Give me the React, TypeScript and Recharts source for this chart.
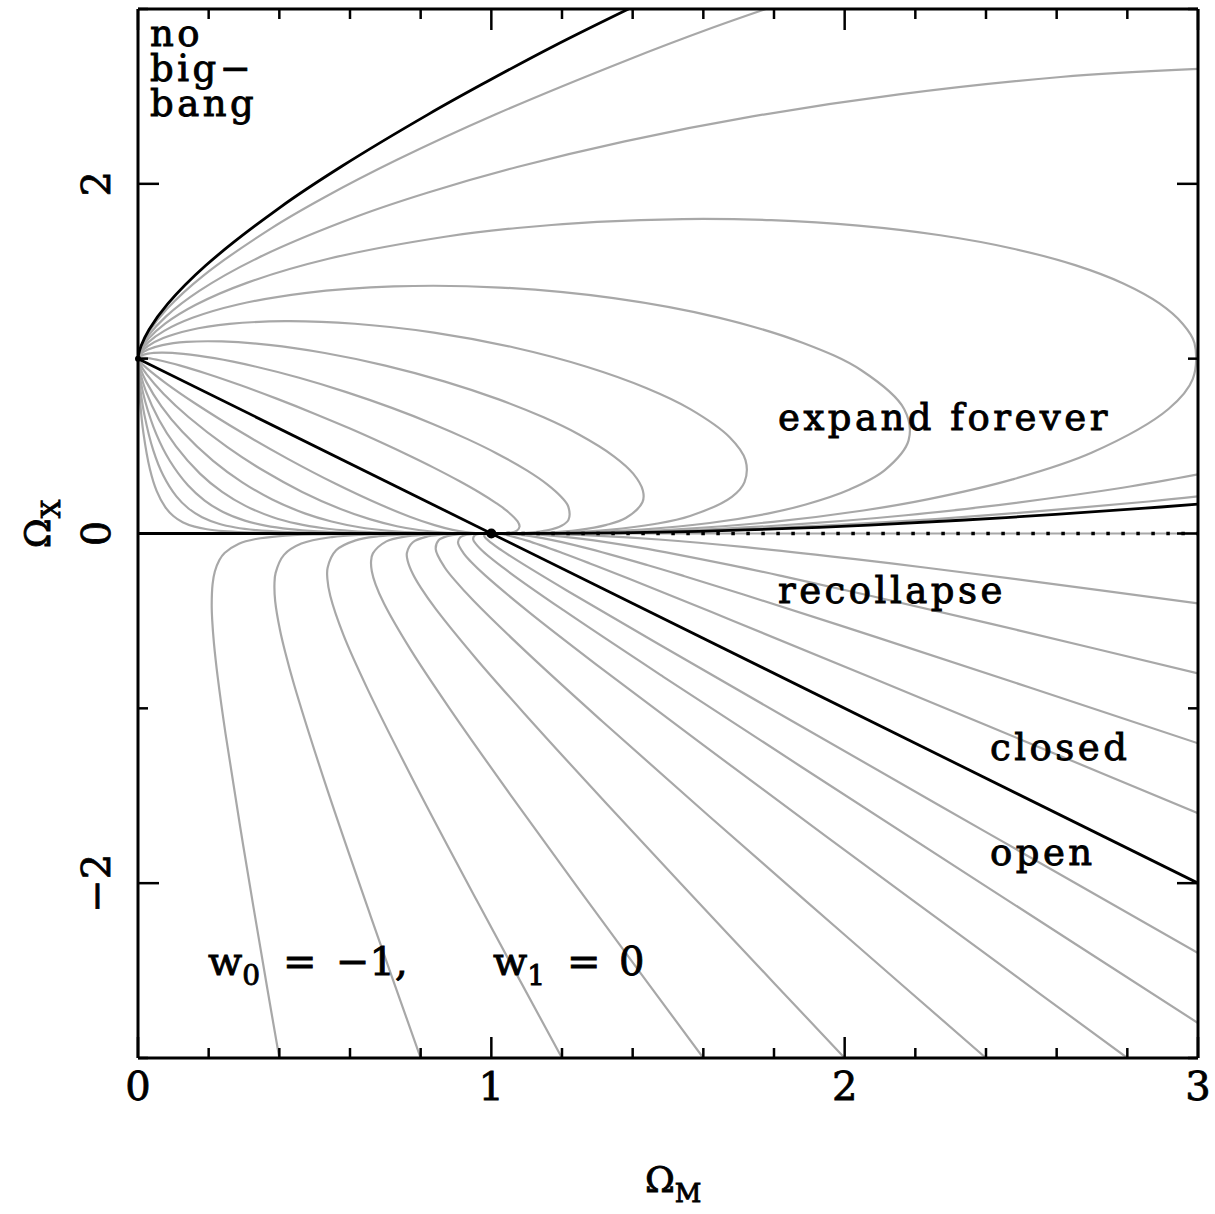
import React from 'react';
import { LineChart, Line, XAxis, YAxis, ReferenceDot } from 'recharts';

const W = 1215;
const H = 1214;
const FONT = '"DejaVu Serif", serif';
const GRAY = '#a8a8a8';

// axis ticks and labels
const xTicks = [0, 0.2, 0.4, 0.6, 0.8, 1, 1.2, 1.4, 1.6, 1.8, 2, 2.2, 2.4, 2.6, 2.8, 3];
const xLabels: [number, string][] = [[0, '0'], [1, '1'], [2, '2'], [3, '3']];
const yTicks = [-3, -2, -1, 0, 1, 2, 3];
const yLabels: [number, string][] = [[-2, '−2'], [0, '0'], [2, '2']];

// black boundary curves (Omega_M, Omega_X)
const flatUniverse = [[0, 1], [3, -2]];
const zeroLeft = [[0, 0], [1, 0]];
const zeroRight = [[1, 0], [3, 0]];
const noBigBang = [[0, 1], [0.001, 1.0182], [0.0086, 1.0725], [0.0315, 1.167], [0.084, 1.313], [0.1916, 1.5326], [0.4033, 1.8671], [0.5768, 2.1004], [0.8227, 2.3987], [0.983, 2.5793], [1.1759, 2.7871], [1.388, 3]];
const recollapse = [[3, 0.168], [2.8505, 0.1448], [2.4568, 0.091], [2.069, 0.0483], [1.8412, 0.0288], [1.5873, 0.0127], [1.3644, 0.004], [1.1861, 0.0007], [1.0672, 0], [1, 0]];

// closed, expand forever: loops from (1,0) round to (0,1)
const loopA = [[0, 1], [0.001, 1.0023], [0.008, 1.0053], [0.0271, 1.003], [0.0633, 0.9894], [0.12, 0.96], [0.1971, 0.9123], [0.2907, 0.8476], [0.3942, 0.7699], [0.4996, 0.6853], [0.6, 0.6], [0.6903, 0.5186], [0.7685, 0.4447], [0.834, 0.3796], [0.9104, 0.2986], [0.9652, 0.2357], [1.0137, 0.1738], [1.0433, 0.1304], [1.0743, 0.0688], [1.0799, 0.04], [1.0725, 0.0168], [1.0536, 0.0049], [1.028, 0.0006], [1, 0]];
const loopB = [[0, 1], [0.001, 1.0051], [0.0081, 1.0166], [0.0278, 1.0285], [0.0662, 1.0344], [0.1285, 1.0277], [0.2166, 1.0029], [0.3282, 0.9568], [0.456, 0.8906], [0.5896, 0.8087], [0.7184, 0.7184], [0.8343, 0.6268], [0.9328, 0.5398], [1.0127, 0.4609], [1.1004, 0.361], [1.1572, 0.2825], [1.1995, 0.2057], [1.218, 0.1523], [1.2183, 0.078], [1.1985, 0.0444], [1.1579, 0.0181], [1.1071, 0.0051], [1.0527, 0.0006], [1, 0]];
const loopC = [[0, 1], [0.001, 1.0076], [0.0082, 1.0267], [0.0284, 1.052], [0.069, 1.0774], [0.137, 1.0957], [0.2373, 1.0984], [0.37, 1.0787], [0.5286, 1.0324], [0.7001, 0.9603], [0.8688, 0.8688], [1.0209, 0.767], [1.1479, 0.6643], [1.2467, 0.5675], [1.3468, 0.4418], [1.4015, 0.3422], [1.429, 0.245], [1.4276, 0.1784], [1.3804, 0.0883], [1.3262, 0.0491], [1.2448, 0.0195], [1.1586, 0.0054], [1.0755, 0.0006], [1, 0]];
const loopD = [[0, 1], [0.001, 1.0097], [0.0083, 1.0356], [0.029, 1.0734], [0.0716, 1.1181], [0.1453, 1.1628], [0.2589, 1.1985], [0.4165, 1.2142], [0.6142, 1.1996], [0.8376, 1.1489], [1.0638, 1.0638], [1.2696, 0.9538], [1.4381, 0.8322], [1.563, 0.7114], [1.6751, 0.5495], [1.7193, 0.4197], [1.7165, 0.2943], [1.6807, 0.2101], [1.5625, 0.1], [1.4626, 0.0542], [1.3322, 0.0208], [1.2078, 0.0056], [1.0962, 0.0006], [1, 0]];
const loopE = [[0, 1], [0.001, 1.0117], [0.0084, 1.0442], [0.0295, 1.0942], [0.0742, 1.1589], [0.1542, 1.2335], [0.2829, 1.3098], [0.4717, 1.3753], [0.7237, 1.4134], [1.0256, 1.4069], [1.3459, 1.3459], [1.6432, 1.2346], [1.8826, 1.0894], [2.0481, 0.9322], [2.1686, 0.7113], [2.1809, 0.5325], [2.1136, 0.3624], [2.0141, 0.2518], [1.8899, 0.1659], [1.7819, 0.114], [1.618, 0.0599], [1.4258, 0.0223], [1.2577, 0.0058], [1.1163, 0.0006], [1, 0]];
const loopF = [[0, 1], [0.001, 1.0136], [0.0084, 1.0523], [0.0301, 1.1146], [0.0768, 1.2], [0.1635, 1.308], [0.3099, 1.4349], [0.539, 1.5713], [0.8691, 1.6975], [1.073, 1.7473], [1.2995, 1.7825], [1.5421, 1.7986], [1.7921, 1.7921], [2.0388, 1.7612], [2.2706, 1.7059], [2.4774, 1.6289], [2.6523, 1.5349], [2.7901, 1.4286], [2.8908, 1.3158], [2.9558, 1.2013], [2.99, 1.0897], [2.9854, 0.8846], [2.9164, 0.712], [2.7001, 0.463], [2.4752, 0.3094], [2.2376, 0.1964], [2.0525, 0.1314], [1.7974, 0.0666], [1.5264, 0.0239], [1.3084, 0.0061], [1.1358, 0.0007], [1, 0]];
const loopGUpper = [[0, 1], [0.001, 1.0154], [0.0085, 1.0601], [0.0306, 1.1344], [0.0795, 1.2418], [0.1734, 1.3875], [0.3407, 1.5775], [0.6228, 1.8159], [0.8235, 1.952], [1.0731, 2.096], [1.3775, 2.2432], [1.739, 2.3855], [2.1537, 2.5119], [2.611, 2.611], [3, 2.657]];
const loopGLower = [[3, 0.338], [2.7862, 0.2617], [2.397, 0.1534], [2.1735, 0.1045], [2.0079, 0.0744], [1.7815, 0.0416], [1.6357, 0.0256], [1.4607, 0.0117], [1.3603, 0.0063], [1.2503, 0.0024], [1.155, 0.0007], [1, 0]];
const loopHUpper = [[0, 1], [0.001, 1.0172], [0.0085, 1.0677], [0.0312, 1.1543], [0.0822, 1.285], [0.1842, 1.4738], [0.377, 1.7452], [0.5281, 1.9231], [0.7331, 2.1372], [1.011, 2.3964], [1.3875, 2.71], [1.6233, 2.891], [1.777, 3]];
const loopHLower = [[3, 0.212], [2.8604, 0.1831], [2.4528, 0.1117], [2.1169, 0.0646], [1.7571, 0.0275], [1.5366, 0.0123], [1.4145, 0.0066], [1.2842, 0.0025], [1.1741, 0.0007], [1, 0]];

// open, expand forever: from (1,0) to (0,1) under the flat line
const openA = [[0, 1], [0.001, 0.9955], [0.0078, 0.9785], [0.0255, 0.9447], [0.0784, 0.8606], [0.161, 0.7452], [0.2949, 0.576], [0.4255, 0.4255], [0.558, 0.2857], [0.6836, 0.1669], [0.7692, 0.0962], [0.8393, 0.0478], [0.8902, 0.0208], [0.9276, 0.0074], [0.9563, 0.0019], [0.9769, 0.0003], [1, 0]];
const openB = [[0, 1], [0.001, 0.9911], [0.0077, 0.9615], [0.0246, 0.9099], [0.0727, 0.798], [0.1436, 0.6649], [0.253, 0.4941], [0.3571, 0.3571], [0.4647, 0.2379], [0.5733, 0.14], [0.6557, 0.082], [0.7328, 0.0417], [0.7988, 0.0186], [0.8562, 0.0069], [0.9075, 0.0018], [0.9491, 0.0003], [1, 0]];
const openC = [[0, 1], [0.001, 0.9852], [0.0075, 0.9398], [0.0234, 0.8673], [0.0663, 0.7275], [0.1256, 0.5814], [0.2126, 0.4153], [0.2941, 0.2941], [0.3799, 0.1945], [0.4719, 0.1152], [0.5479, 0.0685], [0.6268, 0.0357], [0.7026, 0.0164], [0.7764, 0.0062], [0.8496, 0.0017], [0.9144, 0.0003], [1, 0]];
const openD = [[0, 1], [0.001, 0.9775], [0.0073, 0.9124], [0.022, 0.8163], [0.0593, 0.6508], [0.1076, 0.498], [0.1753, 0.3425], [0.2381, 0.2381], [0.3056, 0.1565], [0.3818, 0.0932], [0.4494, 0.0562], [0.5255, 0.0299], [0.6054, 0.0141], [0.6906, 0.0055], [0.7831, 0.0015], [0.8719, 0.0003], [0.9317, 0], [1, 0]];
const openE = [[0, 1], [0.001, 0.9671], [0.007, 0.8772], [0.0204, 0.7553], [0.0518, 0.5684], [0.0899, 0.416], [0.1413, 0.2759], [0.1887, 0.1887], [0.2408, 0.1233], [0.3024, 0.0738], [0.3604, 0.045], [0.4299, 0.0245], [0.5086, 0.0119], [0.5995, 0.0048], [0.707, 0.0014], [0.8195, 0.0002], [0.9009, 0], [1, 0]];
const openF = [[0, 1], [0.001, 0.9515], [0.0066, 0.8278], [0.0183, 0.677], [0.0433, 0.4754], [0.0716, 0.3316], [0.1087, 0.2122], [0.1429, 0.1429], [0.1814, 0.0929], [0.2289, 0.0559], [0.2759, 0.0345], [0.3356, 0.0191], [0.4078, 0.0095], [0.498, 0.004], [0.6146, 0.0012], [0.7498, 0.0002], [0.8571, 0], [0.923, 0], [1, 0]];
const openG = [[0, 1], [0.0009, 0.9251], [0.006, 0.753], [0.0155, 0.5724], [0.0336, 0.3689], [0.0527, 0.2441], [0.0772, 0.1508], [0.1, 0.1], [0.1264, 0.0647], [0.1601, 0.0391], [0.1951, 0.0244], [0.2419, 0.0138], [0.3022, 0.0071], [0.3834, 0.0031], [0.4995, 0.001], [0.652, 0.0002], [0.7894, 0], [0.8824, 0], [1, 0]];

// negative Omega_X, leaving through the bottom edge
const bottomA = [[0.4, -3], [0.3662, -2.605], [0.2986, -1.7944], [0.2479, -1.1477], [0.2256, -0.8215], [0.2149, -0.6266], [0.2101, -0.4979], [0.2086, -0.4074], [0.2111, -0.2896], [0.2175, -0.2175], [0.2304, -0.1515], [0.245, -0.1115], [0.2856, -0.0581], [0.3338, -0.0314], [0.4007, -0.0148], [0.4973, -0.0055], [0.6046, -0.0018], [0.7233, -0.0004], [0.8447, 0], [1, 0]];
const bottomB = [[0.8, -3], [0.6586, -2.1896], [0.5271, -1.4122], [0.4414, -0.8621], [0.4165, -0.6782], [0.4017, -0.551], [0.3883, -0.3883], [0.3862, -0.2901], [0.3895, -0.2254], [0.4132, -0.1224], [0.4624, -0.0578], [0.5491, -0.0203], [0.6405, -0.007], [0.7326, -0.0021], [0.8237, -0.0005], [0.9067, 0], [1, 0]];
const bottomC = [[1.2, -3], [0.9597, -2.1022], [0.7796, -1.4138], [0.6501, -0.8917], [0.5817, -0.5817], [0.5443, -0.3579], [0.5361, -0.2617], [0.5367, -0.1956], [0.5607, -0.0961], [0.6159, -0.0394], [0.6813, -0.0159], [0.7486, -0.006], [0.8245, -0.0016], [0.8974, 0], [1, 0]];
const bottomD = [[1.6, -3], [1.3142, -2.2173], [1.0546, -1.4959], [0.8797, -0.9943], [0.7724, -0.6672], [0.6969, -0.4033], [0.6726, -0.2924], [0.6619, -0.2171], [0.6596, -0.161], [0.6648, -0.114], [0.703, -0.045], [0.7552, -0.0176], [0.8095, -0.0065], [0.8695, -0.0015], [0.9253, 0], [1, 0]];
const bottomE = [[2, -3], [1.6697, -2.2904], [1.3277, -1.5485], [1.0939, -1.0308], [0.9589, -0.7205], [0.8426, -0.4314], [0.8008, -0.3114], [0.7776, -0.2304], [0.7632, -0.1553], [0.761, -0.111], [0.778, -0.0498], [0.8155, -0.019], [0.8571, -0.0069], [0.9032, -0.0015], [0.9452, 0], [1, 0]];
const bottomF = [[2.4, -3], [2.0005, -2.2967], [1.6158, -1.6158], [1.3121, -1.0711], [1.1055, -0.6902], [0.9505, -0.3863], [0.8958, -0.2654], [0.8677, -0.1932], [0.8427, -0.091], [0.8507, -0.0388], [0.8779, -0.0137], [0.9103, -0.0042], [0.9426, -0.0009], [1, 0]];
const bottomG = [[2.8, -3], [2.3878, -2.3878], [1.9465, -1.7304], [1.5889, -1.1937], [1.2982, -0.7513], [1.1064, -0.4497], [0.9827, -0.2399], [0.9423, -0.1616], [0.9222, -0.1153], [0.9057, -0.0515], [0.9121, -0.0213], [0.9296, -0.0074], [0.952, -0.0019], [1, 0]];

// negative Omega_X, leaving through the right edge
const rightA = [[3, -0.4], [2.5327, -0.2735], [2.2314, -0.1959], [2.03, -0.1468], [1.7195, -0.0783], [1.4741, -0.0344], [1.2768, -0.0102], [1.1527, -0.0023], [1.0752, -0.0003], [1, 0]];
const rightB = [[3, -0.8], [2.4954, -0.5555], [2.0693, -0.3548], [1.8301, -0.2468], [1.6777, -0.1812], [1.4204, -0.0808], [1.2514, -0.0292], [1.1525, -0.0092], [1.0758, -0.0015], [1.0435, -0.0003], [1, 0]];
const rightC = [[3, -1.2], [2.5259, -0.8822], [2.0957, -0.5968], [1.7136, -0.3488], [1.5469, -0.2443], [1.4408, -0.1801], [1.2638, -0.0809], [1.1451, -0.0267], [1.0695, -0.005], [1.0317, -0.0006], [1, 0]];
const rightD = [[3, -1.6], [2.5335, -1.208], [2.0765, -0.8255], [1.6832, -0.4987], [1.3899, -0.2593], [1.2807, -0.1727], [1.2029, -0.113], [1.1011, -0.0408], [1.0426, -0.0083], [1.0178, -0.001], [1, 0]];
const rightE = [[3, -2.4], [2.4015, -1.7094], [1.8485, -1.0697], [1.4643, -0.6224], [1.2134, -0.3258], [1.0755, -0.1568], [1.0295, -0.0967], [1.0017, -0.057], [0.9801, -0.0153], [0.9827, -0.0029], [1, 0]];
const rightF = [[3, -2.8], [2.3935, -2.0096], [1.8802, -1.3383], [1.4859, -0.8183], [1.2041, -0.4388], [1.0449, -0.2127], [0.9707, -0.0912], [0.9488, -0.0351], [0.9527, -0.0105], [0.9688, -0.0019], [1, 0]];

const grayCurves = [
  loopA, loopB, loopC, loopD, loopE, loopF, loopGUpper, loopGLower, loopHUpper, loopHLower,
  openA, openB, openC, openD, openE, openF, openG,
  bottomA, bottomB, bottomC, bottomD, bottomE, bottomF, bottomG,
  rightA, rightB, rightC, rightD, rightE, rightF,
];

const pts = (a: number[][]) => a.map(([x, y]) => ({ x, y }));

// centripetal Catmull-Rom, copes with the uneven spacing of the read points
const smooth = (context: any) => {
  let p: number[][] = [];
  return {
    areaStart() {},
    areaEnd() {},
    lineStart() { p = []; },
    point(x: number, y: number) { p.push([+x, +y]); },
    lineEnd() {
      const n = p.length;
      if (!n) return;
      context.moveTo(p[0][0], p[0][1]);
      const d = (a: number[], b: number[]) => Math.sqrt(Math.hypot(b[0] - a[0], b[1] - a[1]));
      for (let i = 0; i < n - 1; i++) {
        const p0 = p[i - 1] || p[i];
        const p1 = p[i];
        const p2 = p[i + 1];
        const p3 = p[i + 2] || p2;
        const d1 = d(p0, p1);
        const d2 = d(p1, p2);
        const d3 = d(p2, p3);
        let c1 = p1;
        let c2 = p2;
        if (d1 > 1e-6) {
          const a = 2 * d1 * d1 + 3 * d1 * d2 + d2 * d2;
          const k = 3 * d1 * (d1 + d2);
          c1 = [(d1 * d1 * p2[0] - d2 * d2 * p0[0] + a * p1[0]) / k, (d1 * d1 * p2[1] - d2 * d2 * p0[1] + a * p1[1]) / k];
        }
        if (d3 > 1e-6) {
          const b = 2 * d3 * d3 + 3 * d3 * d2 + d2 * d2;
          const m = 3 * d3 * (d3 + d2);
          c2 = [(d3 * d3 * p1[0] - d2 * d2 * p3[0] + b * p2[0]) / m, (d3 * d3 * p1[1] - d2 * d2 * p3[1] + b * p2[1]) / m];
        }
        context.bezierCurveTo(c1[0], c1[1], c2[0], c2[1], p2[0], p2[1]);
      }
    },
  };
};

const isInt = (v: number) => Math.abs(v - Math.round(v)) < 1e-6;
const labelOf = (list: [number, string][], v: number) => {
  const hit = list.find(([k]) => Math.abs(k - v) < 1e-6);
  return hit ? hit[1] : null;
};
const yMajor = (v: number) => Math.abs(v) < 1e-6 || Math.abs(Math.abs(v) - 2) < 1e-6;

const BottomTick = (props: any) => {
  const { x, y, payload } = props;
  const v = payload.value;
  const lab = labelOf(xLabels, v);
  return (
    <g>
      <line x1={x} y1={y} x2={x} y2={y - (isInt(v) ? 21 : 10)} stroke="#000" strokeWidth={2.5} />
      {lab && (
        <text x={x} y={y + 42} textAnchor="middle" fontFamily={FONT} fontSize={40} fill="#000" stroke="#000" strokeWidth={0.8}>
          {lab}
        </text>
      )}
    </g>
  );
};

const TopTick = (props: any) => {
  const { x, y, payload } = props;
  return <line x1={x} y1={y} x2={x} y2={y + (isInt(payload.value) ? 21 : 10)} stroke="#000" strokeWidth={2.5} />;
};

const LeftTick = (props: any) => {
  const { x, y, payload } = props;
  const v = payload.value;
  const lab = labelOf(yLabels, v);
  return (
    <g>
      <line x1={x} y1={y} x2={x + (yMajor(v) ? 21 : 10)} y2={y} stroke="#000" strokeWidth={2.5} />
      {lab && (
        <text x={x - 28} y={y} transform={`rotate(-90 ${x - 28} ${y})`} textAnchor="middle" fontFamily={FONT} fontSize={40} fill="#000" stroke="#000" strokeWidth={0.8}>
          {lab}
        </text>
      )}
    </g>
  );
};

const RightTick = (props: any) => {
  const { x, y, payload } = props;
  return <line x1={x} y1={y} x2={x - (yMajor(payload.value) ? 21 : 10)} y2={y} stroke="#000" strokeWidth={2.5} />;
};

const axisLine = { stroke: '#000', strokeWidth: 3 };

export default function App() {
  return (
    <div style={{ position: 'absolute', left: 0, top: 0, width: W, height: H, background: '#fff' }}>
      <LineChart width={W} height={H} margin={{ top: 0, right: 0, bottom: 0, left: 0 }}>
        <XAxis dataKey="x" type="number" domain={[0, 3]} allowDataOverflow ticks={xTicks} interval={0}
          height={156} tickSize={0} tickMargin={0} tickLine={false} axisLine={axisLine} tick={(p: any) => <BottomTick {...p} />} />
        <XAxis xAxisId="top" orientation="top" dataKey="x" type="number" domain={[0, 3]} allowDataOverflow ticks={xTicks} interval={0}
          height={9} tickSize={0} tickMargin={0} tickLine={false} axisLine={axisLine} tick={(p: any) => <TopTick {...p} />} />
        <YAxis type="number" domain={[-3, 3]} allowDataOverflow ticks={yTicks} interval={0}
          width={138} tickSize={0} tickMargin={0} tickLine={false} axisLine={axisLine} tick={(p: any) => <LeftTick {...p} />} />
        <YAxis yAxisId="right" orientation="right" type="number" domain={[-3, 3]} allowDataOverflow ticks={yTicks} interval={0}
          width={17} tickSize={0} tickMargin={0} tickLine={false} axisLine={axisLine} tick={(p: any) => <RightTick {...p} />} />

        {grayCurves.map((c, i) => (
          <Line key={`g${i}`} data={pts(c)} dataKey="y" type={smooth as any} stroke={GRAY} strokeWidth={2.2}
            dot={false} activeDot={false} isAnimationActive={false} />
        ))}
        <Line data={pts(zeroRight)} dataKey="y" type="linear" stroke={GRAY} strokeWidth={2.2} dot={false} activeDot={false} isAnimationActive={false} />
        <Line data={pts(zeroRight)} dataKey="y" type="linear" stroke="#000" strokeWidth={3.5} strokeDasharray="3.5 11.5" dot={false} activeDot={false} isAnimationActive={false} />
        <Line data={pts(zeroLeft)} dataKey="y" type="linear" stroke="#000" strokeWidth={2.8} dot={false} activeDot={false} isAnimationActive={false} />
        <Line data={pts(flatUniverse)} dataKey="y" type="linear" stroke="#000" strokeWidth={2.8} dot={false} activeDot={false} isAnimationActive={false} />
        <Line data={pts(noBigBang)} dataKey="y" type={smooth as any} stroke="#000" strokeWidth={2.8} dot={false} activeDot={false} isAnimationActive={false} />
        <Line data={pts(recollapse)} dataKey="y" type={smooth as any} stroke="#000" strokeWidth={2.8} dot={false} activeDot={false} isAnimationActive={false} />
        <ReferenceDot x={1} y={0} r={5} fill="#000" stroke="none" ifOverflow="visible" />
        <ReferenceDot x={0} y={1} r={3} fill="#000" stroke="none" ifOverflow="visible" />
      </LineChart>

      <svg width={W} height={H} style={{ position: 'absolute', left: 0, top: 0, pointerEvents: 'none' }}>
        <g fontFamily={FONT} fill="#000" stroke="#000" strokeWidth={0.9}>
          <g fontSize={37} style={{ letterSpacing: '3.5px' }}>
            <text x={150} y={46}>
              no
              <tspan x={150} dy={35}>big−</tspan>
              <tspan x={150} dy={35}>bang</tspan>
            </text>
            <text x={778} y={430}>expand forever</text>
            <text x={778} y={603}>recollapse</text>
            <text x={990} y={760}>closed</text>
            <text x={990} y={865}>open</text>
          </g>
          <g fontSize={40}>
            <text x={208} y={975}>w<tspan fontSize={28} dy={10}>0</tspan></text>
            <text x={283} y={975}>=</text>
            <text x={336} y={975}>−1,</text>
            <text x={493} y={975}>w<tspan fontSize={28} dy={10}>1</tspan></text>
            <text x={567} y={975}>=</text>
            <text x={619} y={975}>0</text>
          </g>
          <text x={645} y={1192} fontSize={36}>Ω<tspan fontSize={26} dy={10}>M</tspan></text>
          <text x={50} y={524} fontSize={36} textAnchor="middle" transform="rotate(-90 50 524)">Ω<tspan fontSize={26} dy={10}>X</tspan></text>
        </g>
      </svg>
    </div>
  );
}
